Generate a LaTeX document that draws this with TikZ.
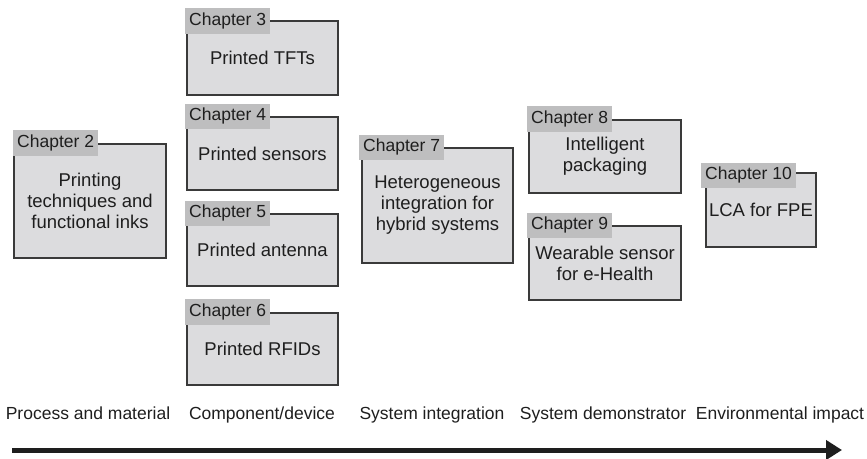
\documentclass[tikz,border=0pt]{standalone}
\usepackage{fontspec}
\setmainfont{Liberation Sans}
\usetikzlibrary{arrows.meta}
\definecolor{boxfill}{HTML}{DCDCDE}
\definecolor{tabfill}{HTML}{BEBEBF}
\definecolor{edge}{HTML}{3A3A3A}
\definecolor{ink}{HTML}{1E1E1E}
\tikzset{
  chbox/.style={draw=edge, line width=1.3pt, fill=boxfill, text=ink, align=center, inner sep=0pt},
  chtab/.style={fill=tabfill, text=ink, anchor=north west, inner xsep=4pt, inner ysep=0pt, minimum height=25.5pt},
  boxtext/.style={text=ink, align=center, font=\fontsize{18.5}{21}\selectfont},
  axislabel/.style={text=ink, anchor=base, inner sep=0pt},
}
\newcommand{\chapterbox}[8]{%
  % #1 name, #2 x1, #3 y1, #4 x2, #5 y2, #6 tab x, #7 tab y, #8 chapter label
  \node[chbox, minimum width={#4-#2}, minimum height={#5-#3}] (#1) at ({(#2+#4)/2},{(#3+#5)/2}) {};
  \node[chtab] (#1t) at (#6,#7) {#8};
}
\begin{document}
\begin{tikzpicture}[x=1pt,y=-1pt,font=\fontsize{17.5}{21}\selectfont]
\useasboundingbox (0,0) rectangle (867,458);
\chapterbox{c2}{14}{144}{166}{258}{13}{130}{Chapter 2}
\node[boxtext] (c2x) at (90,201) {Printing\\techniques and\\functional inks};
\chapterbox{c3}{187}{21}{338}{95}{185}{8}{Chapter 3}
\node[boxtext] (c3x) at (262.5,58) {Printed TFTs};
\chapterbox{c4}{187}{117}{338}{190}{185}{103.5}{Chapter 4}
\node[boxtext] (c4x) at (262.5,153.5) {Printed sensors};
\chapterbox{c5}{187}{214}{338}{286}{185}{200.5}{Chapter 5}
\node[boxtext] (c5x) at (262.5,250) {Printed antenna};
\chapterbox{c6}{187}{313}{338}{385}{185}{299}{Chapter 6}
\node[boxtext] (c6x) at (262.5,349) {Printed RFIDs};
\chapterbox{c7}{362}{148}{513}{263}{359}{134.5}{Chapter 7}
\node[boxtext] (c7x) at (437.5,205.5) {Heterogeneous\\integration for\\hybrid systems};
\chapterbox{c8}{529}{120}{681}{193}{527}{106}{Chapter 8}
\node[boxtext] (c8x) at (605,156.5) {Intelligent\\packaging};
\chapterbox{c9}{529}{226}{681}{300}{527}{212.5}{Chapter 9}
\node[boxtext] (c9x) at (605,263) {Wearable sensor\\for e-Health};
\chapterbox{c10}{706}{173}{816}{247}{701}{162.5}{Chapter 10}
\node[boxtext] (c10x) at (761,210) {LCA for FPE};
\node[axislabel] (l1) at (88,419) {Process and material};
\node[axislabel] (l2) at (262,419) {Component/device};
\node[axislabel] (l3) at (432,419) {System integration};
\node[axislabel] (l4) at (603,419) {System demonstrator};
\node[axislabel] (l5) at (780,419) {Environmental impact};
\coordinate (as) at (12,450);
\coordinate (ae) at (842,450);
\draw[line width=5pt, color=ink, -{Triangle[length=16pt,width=19pt]}] (as) -- (ae);
\end{tikzpicture}
\end{document}
